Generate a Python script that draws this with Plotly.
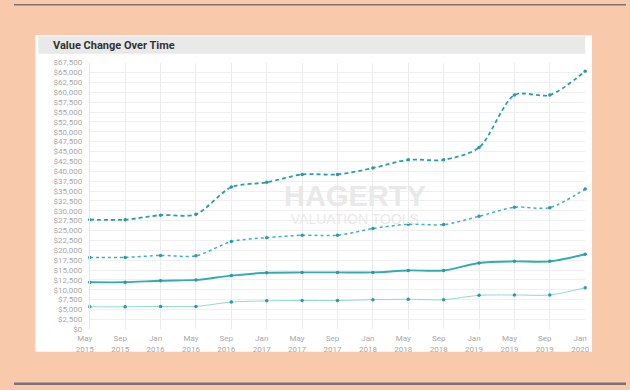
import plotly.graph_objects as go

W, H = 630, 390

periods = ["May<br>2015", "Sep<br>2015", "Jan<br>2016", "May<br>2016", "Sep<br>2016",
           "Jan<br>2017", "May<br>2017", "Sep<br>2017", "Jan<br>2018", "May<br>2018",
           "Sep<br>2018", "Jan<br>2019", "May<br>2019", "Sep<br>2019", "Jan<br>2020"]

concours = [27750, 27750, 28900, 29100, 36000, 37200, 39200, 39200, 40800, 42900,
            42900, 46000, 59300, 59300, 65300]
excellent = [18200, 18200, 18700, 18600, 22200, 23200, 23800, 23800, 25500, 26600,
             26500, 28600, 30900, 30800, 35500]
good = [11900, 11900, 12300, 12500, 13600, 14300, 14400, 14400, 14400, 14900,
        14900, 16800, 17200, 17200, 19000]
fair = [5700, 5700, 5800, 5800, 6900, 7200, 7300, 7300, 7500, 7600,
        7500, 8600, 8700, 8700, 10500]

y_ticks = list(range(0, 67501, 2500))
title_text = "Value Change Over Time"
watermark_main = "HAGERTY"
watermark_sub = "VALUATION TOOLS"

series = [
    ("#2a9fa8", concours, "4px,3px", 1.8),
    ("#3ab3bc", excellent, "dot", 1.5),
    ("#33abb4", good, "solid", 1.9),
    ("#8fd6db", fair, "solid", 1.0),
]

fig = go.Figure()
for color, vals, dash, width in series:
    fig.add_trace(go.Scatter(
        x=periods, y=vals, mode="lines+markers",
        line=dict(color=color, dash=dash, width=width, shape="spline", smoothing=0.8),
        marker=dict(color="#2a9aa3", size=3.5),
        cliponaxis=False, showlegend=False, hoverinfo="skip",
    ))

def px(x):
    return x / W

def py(y):
    return 1 - y / H

shapes = [
    dict(type="rect", xref="paper", yref="paper", x0=px(22), x1=px(595), y0=py(356), y1=py(32),
         fillcolor="white", line=dict(width=0), layer="below"),
    dict(type="rect", xref="paper", yref="paper", x0=px(25), x1=px(588), y0=py(51), y1=py(33),
         fillcolor="#e9e9e9", line=dict(width=0), layer="below"),
    dict(type="rect", xref="paper", yref="paper", x0=0, x1=1, y0=py(1.5), y1=1,
         fillcolor="#7b6f7c", line=dict(width=0), layer="below"),
    dict(type="rect", xref="paper", yref="paper", x0=0, x1=1, y0=0, y1=py(387.5),
         fillcolor="#7b6f7c", line=dict(width=0), layer="below"),
]

annotations = [
    dict(text="<b>" + title_text + "</b>", xref="paper", yref="paper", x=px(38), y=py(42),
         xanchor="left", yanchor="middle", showarrow=False,
         font=dict(family="Roboto, Liberation Sans, sans-serif", size=11, color="#333333")),
    dict(text="<span style='font-size:29px'><b>" + watermark_main + "</b></span><br>"
              + watermark_sub,
         xref="paper", yref="paper", x=px(351), y=py(204),
         xanchor="center", yanchor="middle", showarrow=False,
         font=dict(family="Liberation Sans, Arial, sans-serif", size=14, color="#e9e9e9")),
]

fig.update_layout(
    width=W, height=H,
    margin=dict(l=0, r=0, t=0, b=0),
    paper_bgcolor="#f8caab",
    plot_bgcolor="rgba(0,0,0,0)",
    shapes=shapes,
    annotations=annotations,
    font=dict(family="Roboto, Liberation Sans, sans-serif", color="#a8a8a8", size=8),
    xaxis=dict(
        domain=[px(78), px(588)],
        type="category", range=[0, len(periods) - 1],
        showgrid=True, gridcolor="#ececec", gridwidth=1,
        zeroline=False, showline=False, ticks="",
        tickfont=dict(size=8, color="#a8a8a8"),
        ticklabelshift=-5, ticklabelstandoff=3,
    ),
    yaxis=dict(
        domain=[py(333), py(60)],
        range=[0, 67500], tickvals=y_ticks,
        tickformat="$,.0f",
        showgrid=True, gridcolor="#efefef", gridwidth=1,
        zeroline=False, showline=True, linecolor="#e6e6e6", ticks="",
        tickfont=dict(size=8, color="#a8a8a8"),
        ticklabelstandoff=5,
    ),
)

fig.write_html(
    "out.html",
    config={"displayModeBar": False},
    post_script="document.body.style.margin='0';document.body.style.overflow='hidden';",
)
